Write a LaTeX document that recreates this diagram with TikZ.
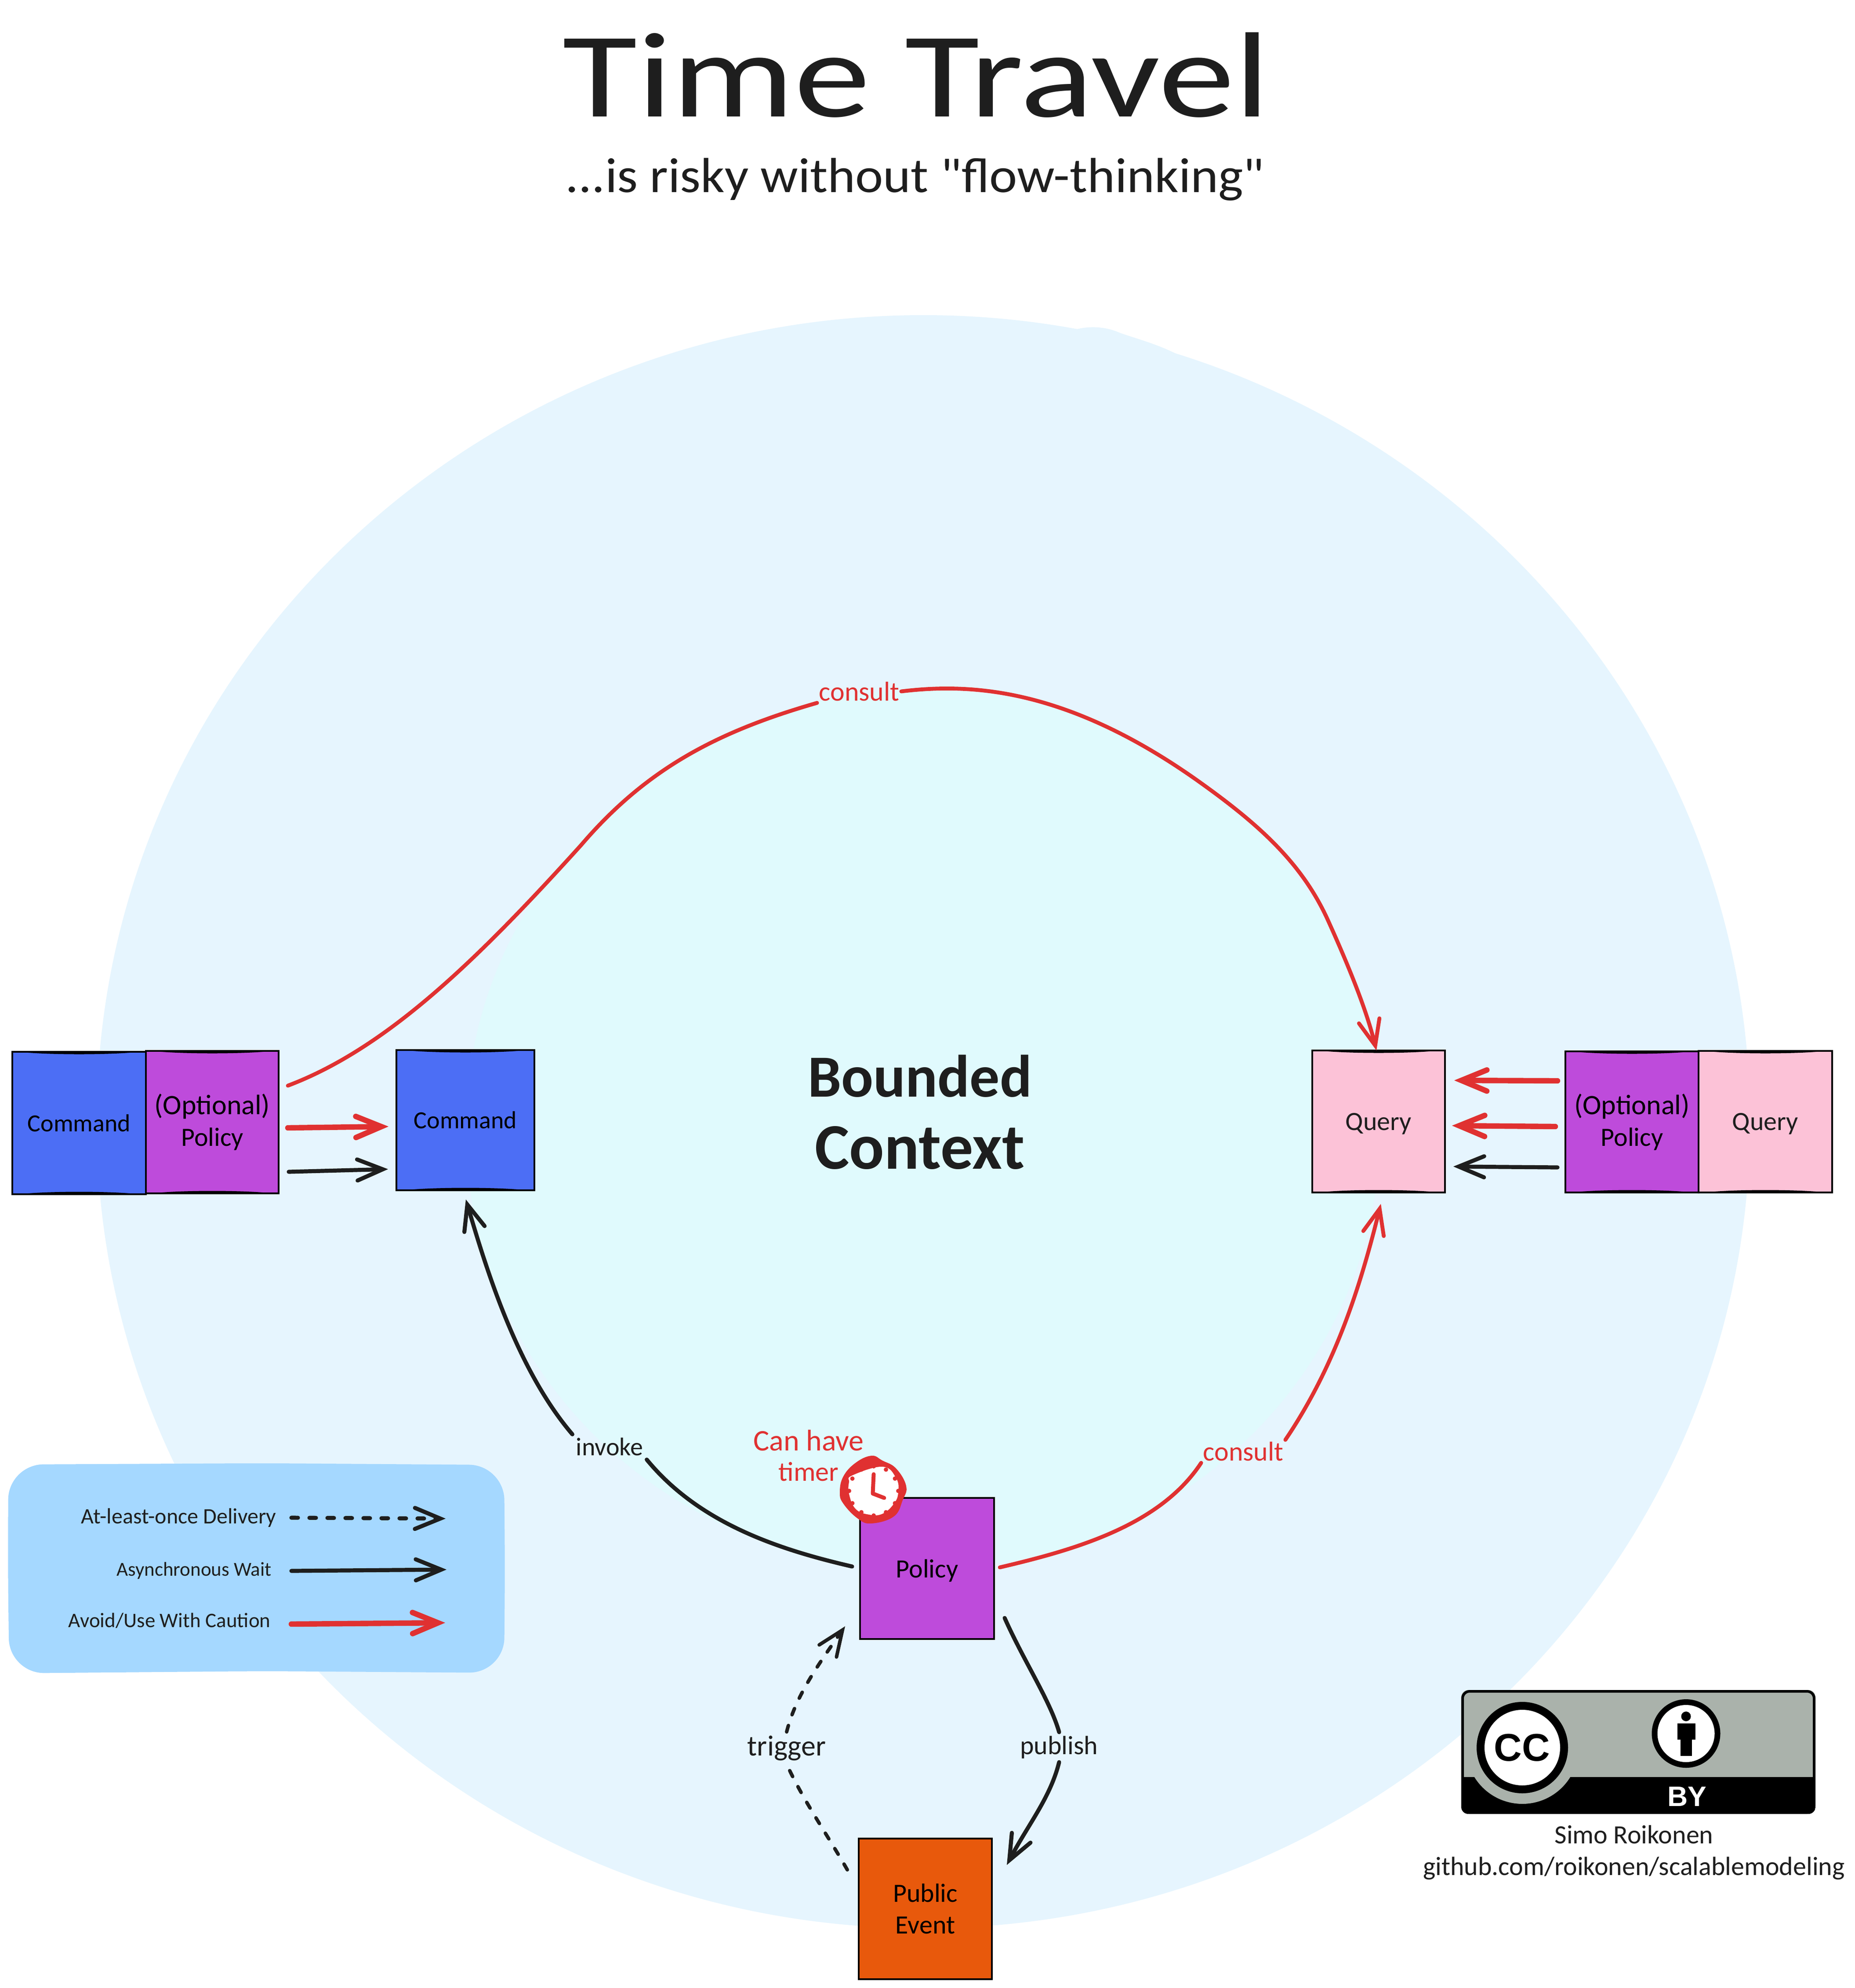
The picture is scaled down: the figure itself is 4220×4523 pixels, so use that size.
\documentclass[tikz,border=0pt]{standalone}
\usepackage{fontspec}
\setmainfont{Carlito}
\newfontfamily\plainfont{Carlito}
\newfontfamily\ccfont{Liberation Sans}
\usetikzlibrary{arrows.meta,calc,shapes.geometric}
\definecolor{ink}{HTML}{1E1E1E}
\definecolor{redink}{HTML}{E03131}
\definecolor{outerbg}{HTML}{E6F5FE}
\definecolor{innerbg}{HTML}{E0FAFD}
\definecolor{legendbg}{HTML}{A5D8FF}
\definecolor{cmdblue}{HTML}{4C6EF5}
\definecolor{polpurple}{HTML}{BE4BDB}
\definecolor{qpink}{HTML}{FCC2D7}
\definecolor{evorange}{HTML}{E8590C}
\definecolor{ccgrey}{HTML}{AAB2AB}
\tikzset{
  boxbase/.style={draw=black,line width=2pt,inner sep=0pt,align=center,text=black,
    font=\fontsize{30}{36}\selectfont},
  cmdbox/.style={boxbase,fill=cmdblue,font=\fontsize{28}{36}\selectfont},
  polbox/.style={boxbase,fill=polpurple},
  qbox/.style={boxbase,fill=qpink,text=ink,text depth=0pt},
  evbox/.style={boxbase,fill=evorange},
  tipb/.style={-{Straight Barb[length=29pt,width=24pt,line cap=round]}},
  arrowblack/.style={draw=ink,line width=4.6pt,line cap=round,tipb},
  arrowred/.style={draw=redink,line width=6.2pt,line cap=round,tipb},
  curveblack/.style={draw=ink,line width=4.6pt,line cap=round},
  curvered/.style={draw=redink,line width=4.4pt,line cap=round},
  dashblack/.style={draw=ink,line width=4pt,line cap=round,dash pattern=on 7.5pt off 13pt},
  edgelabel/.style={inner sep=4pt,text=ink,font=\fontsize{29}{34}\selectfont},
  redlabel/.style={inner sep=4pt,text=redink,font=\fontsize{31}{34.5}\selectfont,align=center},
  legendtext/.style={inner sep=0pt,text=ink,anchor=east},
  creditt/.style={inner sep=0pt,text=ink,font=\fontsize{30}{36}\selectfont,align=center}
}
\newcommand{\lens}[1]{%
  \fill[black] (#1.north west) .. controls ($(#1.north)+(-90,10)$) and ($(#1.north)+(90,10)$) .. (#1.north east) -- cycle;
  \fill[black] (#1.south west) .. controls ($(#1.south)+(-90,-10)$) and ($(#1.south)+(90,-10)$) .. (#1.south east) -- cycle;
}
\begin{document}
\begin{tikzpicture}[x=0.5pt,y=-0.5pt]
\useasboundingbox (0,0) rectangle (4220,4523);
\fill[white] (0,0) rectangle (4220,4523);
% background regions
\fill[outerbg] (2101,2552) ellipse [x radius=1881,y radius=1835];
\fill[outerbg] (2440,752) .. controls (2470,742) and (2510,740) .. (2550,758)
  .. controls (2600,775) and (2640,785) .. (2690,812) -- (2440,900) -- cycle;
\fill[innerbg] (2100,2570) ellipse [x radius=1040,y radius=1000];
% legend panel
\fill[legendbg,rounded corners=40pt] (19,3332) -- (600,3329) -- (1147,3333) -- (1149,3570) -- (1147,3806) -- (600,3802) -- (21,3807) -- (18,3570) -- cycle;
% title
\node (title) at (2085,265) [anchor=base,inner sep=0pt,text=ink,xscale=1.26,font=\fontsize{138}{138}\selectfont] {Time Travel};
\node (subtitle) at (2082,408) [inner sep=0pt,text=ink,xscale=1.07,font=\plainfont\fontsize{56}{60}\selectfont] {...is risky without "flow-thinking"};
\node (bounded) at (2093,2530) [inner sep=0pt,text=ink,align=center,font=\fontsize{68}{82}\bfseries\selectfont] {Bounded\\{\fontsize{74}{82}\selectfont Context}};
% boxes
\node[cmdbox,minimum width=152pt,minimum height=162pt] (cmdL) at (180,2555) {Command};
\node[polbox,minimum width=151pt,minimum height=162pt] (optL) at (483,2553) {{\fontsize{32}{36}\selectfont (Optional)}\\Policy};
\node[cmdbox,minimum width=157pt,minimum height=159.5pt] (cmdM) at (1059,2548.5) {Command};
\node[qbox,minimum width=151pt,minimum height=161.5pt] (qL) at (3137,2551.5) {Query};
\node[polbox,minimum width=151.5pt,minimum height=160.5pt] (optR) at (3713.5,2552.5) {{\fontsize{32}{36}\selectfont (Optional)}\\Policy};
\node[qbox,minimum width=152pt,minimum height=161pt] (qR) at (4017,2552) {Query};
\node[polbox,text depth=0pt,minimum width=152.5pt,minimum height=160.5pt] (pol) at (2109.5,3568.5) {Policy};
\node[evbox,minimum width=151.5pt,minimum height=160pt] (pe) at (2105.5,4343) {Public\\Event};
\lens{cmdL}\lens{optL}\lens{cmdM}\lens{qL}\lens{optR}\lens{qR}
% edge labels
\node[redlabel,inner sep=2pt] (cons1) at (1955,1573) {consult};
\node[redlabel,inner sep=2pt] (cons2) at (2829,3302) {consult};
\node[edgelabel] (inv) at (1387,3292) {invoke};
\node[edgelabel,font=\fontsize{30}{34}\selectfont] (pub) at (2410,3975) {publish};
\node[edgelabel,font=\fontsize{33}{34}\selectfont] (trig) at (1790,3977) {trigger};
% straight arrows, left
\draw[arrowred] ($(optL.east)+(19,13)$) -- ($(cmdM.west)+(-16,14.5)$);
\draw[arrowblack] ($(optL.east)+(21,113)$) -- ($(cmdM.west)+(-17,111.5)$);
% straight arrows, right
\draw[arrowred] ($(optR.west)+(-16,-93.5)$) -- ($(qL.east)+(19,-93.5)$);
\draw[arrowred] ($(optR.west)+(-21,10.5)$) -- ($(qL.east)+(14,9.5)$);
\draw[arrowblack] ($(optR.west)+(-16,103.5)$) -- ($(qL.east)+(17,102.5)$);
% long consult
\draw[curvered] ($(optL.east)+(19,-83)$) .. controls (880,2385) and (1085,2185) .. (1322,1923)
  .. controls (1470,1750) and (1630,1665) .. (cons1.south west);
\draw[curvered,tipb] (cons1.east) .. controls (2200,1555) and (2420,1560) .. (2725,1776)
  .. controls (2860,1872) and (2960,1960) .. (3020,2090)
  .. controls (3070,2200) and (3110,2300) .. ($(qL.north)+(-5,2)$);
% lower consult
\draw[curvered] ($(pol.east)+(11,-2.5)$) .. controls (2450,3525) and (2640,3470) .. (cons2.south west);
\draw[curvered,tipb] (cons2.north east) .. controls (3030,3120) and (3090,2950) .. ($(qL.south)+(5,24)$);
% invoke
\draw[curveblack] ($(pol.west)+(-16,-4.5)$) .. controls (1770,3525) and (1590,3465) .. (inv.south east);
\draw[curveblack,tipb] (inv.north west) .. controls (1180,3120) and (1110,2900) .. ($(cmdM.south)+(1,19)$);
% publish
\draw[curveblack] ($(pol.east)+(22,112.5)$) .. controls (2330,3780) and (2390,3870) .. (pub.north);
\draw[curveblack,tipb] (pub.south) .. controls (2390,4090) and (2340,4150) .. ($(pe.east)+(32,-100)$);
% trigger
\draw[dashblack] ($(pe.west)+(-24,-89)$) .. controls (1880,4170) and (1830,4100) .. (trig.south);
\draw[dashblack,tipb] (trig.north) .. controls (1810,3860) and (1860,3790) .. ($(pol.west)+(-32,131.5)$);
% timer
\node[redlabel,inner sep=0pt] (timerlabel) at (1840,3312) {{\fontsize{34}{34.5}\selectfont Can have}\\timer};
\fill[redink] plot[smooth cycle,tension=.7] coordinates {(1983,3312) (2008,3323) (2039,3341) (2062,3381) (2054,3413) (2034,3450) (1983,3466) (1952,3455) (1919,3421) (1911,3395) (1919,3359) (1947,3328)};
\fill[white] plot[smooth cycle,tension=.7] coordinates {(1939,3357) (2008,3337) (2039,3363) (2044,3395) (2034,3421) (2008,3444) (1978,3446) (1947,3433) (1932,3399) (1932,3372)};
\foreach \a in {30,60,...,360}{\fill[redink] ($(1988,3392)+({\a}:56)$) circle (2.5pt);}
\draw[redink,line width=4.5pt,line cap=round,line join=round] (1988,3354) -- (1986,3398) -- (2012,3408);
% legend
\node[legendtext,font=\fontsize{25}{25}\selectfont] (lg1) at (629,3453) {At-least-once Delivery};
\node[legendtext,font=\fontsize{22.5}{25}\selectfont] (lg2) at (618,3573) {Asynchronous Wait};
\node[legendtext,font=\fontsize{23.5}{25}\selectfont] (lg3) at (616,3687) {Avoid/Use With Caution};
\coordinate (lg1a) at (663,3453); \coordinate (lg1b) at (1014,3455);
\coordinate (lg2a) at (663,3574); \coordinate (lg2b) at (1016,3571);
\coordinate (lg3a) at (663,3695); \coordinate (lg3b) at (1013,3692);
\draw[dashblack,line width=4.6pt,tipb] (lg1a) -- (lg1b);
\draw[arrowblack] (lg2a) -- (lg2b);
\draw[arrowred] (lg3a) -- (lg3b);
% CC BY badge
\begin{scope}
\clip[rounded corners=8pt] (3325,3845) rectangle (4131,4127);
\fill[ccgrey] (3325,3845) rectangle (4131,4043);
\fill[black] (3325,4043) rectangle (4131,4127);
\fill[ccgrey] (3464,3976) circle (64pt);
\end{scope}
\draw[black,line width=3pt,rounded corners=8pt] (3328,3848) rectangle (4128,4124);
\fill[black] (3464,3976) circle (52pt);
\fill[white] (3464,3976) circle (43pt);
\node[inner sep=0pt,font=\ccfont\bfseries\fontsize{44}{44}\selectfont,text=black] (cc) at (3463,3976) {CC};
\fill[black] (3836.5,3944) circle (39pt);
\fill[white] (3836.5,3944) circle (32.5pt);
\fill[black] (3836.5,3905) circle (5.5pt);
\fill[black] (3817,3921) rectangle (3858,3958);
\fill[black] (3824,3958) rectangle (3849.5,3995);
\node[inner sep=0pt,font=\ccfont\bfseries\fontsize{32}{32}\selectfont,text=white] (by) at (3839,4087) {BY};
% credits
\node[creditt] (credit) at (3718,4215) {Simo Roikonen\\github.com/roikonen/scalablemodeling};
\end{tikzpicture}
\end{document}
